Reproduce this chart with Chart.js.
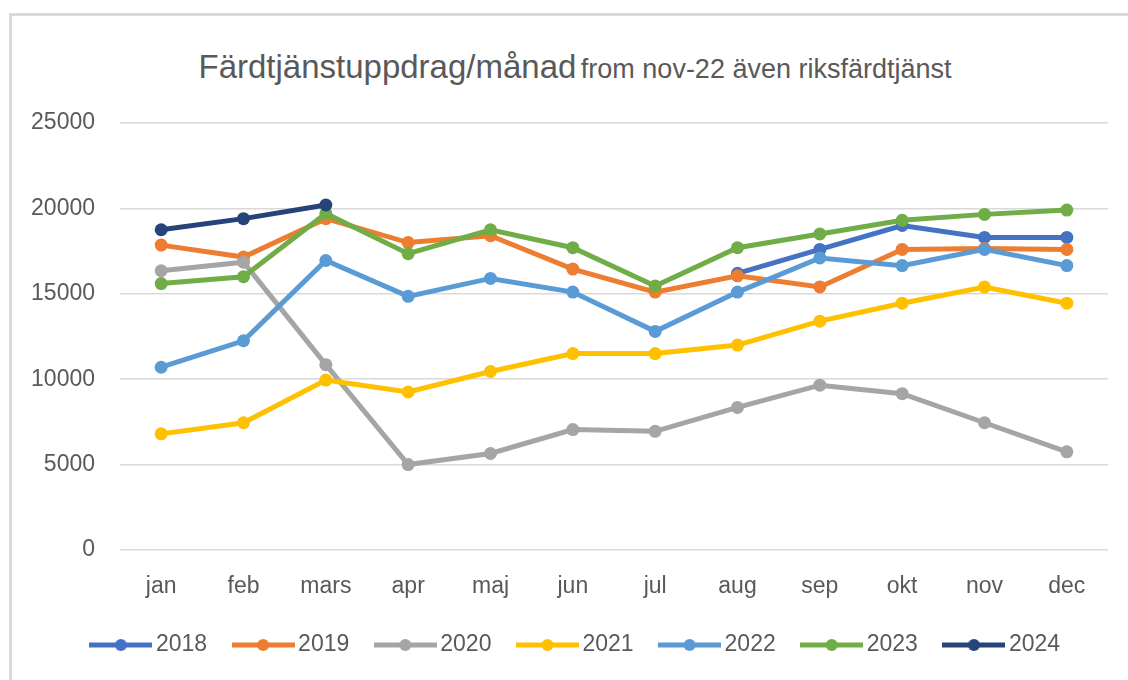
<!DOCTYPE html>
<html>
<head>
<meta charset="utf-8">
<script src="https://cdn.jsdelivr.net/npm/chart.js@4.4.1/dist/chart.umd.min.js"></script>
<style>
  html,body{margin:0;padding:0;background:#fff;overflow:hidden;}
  #wrap{position:relative;width:1128px;height:680px;}
  #frame{position:absolute;left:9px;top:13px;width:1300px;height:900px;border:3px solid #d9d9d9;box-sizing:border-box;}
  #title{position:absolute;left:0;top:47px;width:1150px;text-align:center;color:#595959;
    font-family:"Liberation Sans",Arial,sans-serif;line-height:40px;white-space:nowrap;}
  #title .main{font-size:33px;}
  #title .sub{font-size:27px;}
  canvas{position:absolute;left:0;top:0;}
</style>
</head>
<body>
<div id="wrap">
  <div id="frame"></div>
  <div id="title"><span class="main">Färdtjänstuppdrag/månad</span> <span class="sub">from nov-22 även riksfärdtjänst</span></div>
  <canvas id="chart" width="1128" height="680"></canvas>
</div>
<script>
const months = ['jan','feb','mars','apr','maj','jun','jul','aug','sep','okt','nov','dec'];
const years = ['2018','2019','2020','2021','2022','2023','2024'];
const colors = ['#4472C4','#ED7D31','#A5A5A5','#FFC000','#5B9BD5','#70AD47','#264478'];

const y2018 = [null,null,null,null,null,null,null,16200,17600,19000,18300,18300];
const y2019 = [17850,17150,19400,18000,18400,16450,15100,16050,15400,17600,17650,17600];
const y2020 = [16350,16850,10850,5000,5650,7050,6950,8350,9650,9150,7450,5750];
const y2021 = [6800,7450,9950,9250,10450,11500,11500,12000,13400,14450,15400,14450];
const y2022 = [10700,12250,16950,14850,15900,15100,12800,15100,17100,16650,17600,16650];
const y2023 = [15600,16000,19700,17350,18750,17700,15450,17700,18500,19300,19650,19900];
const y2024 = [18750,19400,20200];
const yTicks = [0,5000,10000,15000,20000,25000];

const series = [y2018,y2019,y2020,y2021,y2022,y2023,y2024];
const txt = '#595959';
const font = '"Liberation Sans", Arial, sans-serif';

// legend icon: line with a dot in the middle, like the original
function legendIcon(color){
  const c = document.createElement('canvas');
  c.width = 63; c.height = 16;
  const g = c.getContext('2d');
  g.strokeStyle = color; g.lineWidth = 5;
  g.beginPath(); g.moveTo(0,8); g.lineTo(63,8); g.stroke();
  g.fillStyle = color;
  g.beginPath(); g.arc(31.5,8,6,0,Math.PI*2); g.fill();
  return c;
}

const datasets = series.map((d,i)=>({
  label: years[i],
  data: d,
  borderColor: colors[i],
  backgroundColor: colors[i],
  borderWidth: 5,
  pointRadius: 6.5,
  pointHoverRadius: 6.5,
  pointBorderWidth: 0,
  tension: 0,
  order: series.length - i   // later years drawn on top
}));

// nudge the legend row so it sits where the original has it
const legendShift = {
  id: 'legendShift',
  afterLayout(chart){
    if(!chart.legend) return;
    chart.legend.left += 19.75;
    chart.legend.right += 19.75;
  }
};

new Chart(document.getElementById('chart'), {
  type: 'line',
  data: {labels: months, datasets},
  plugins: [legendShift],
  options: {
    responsive: false,
    animation: false,
    devicePixelRatio: 1,
    layout: {padding: {left: 10, right: 20, top: 123, bottom: 13.5}},
    scales: {
      x: {
        offset: true,
        grid: {display: false, drawTicks: false},
        border: {display: false},
        ticks: {color: txt, font: {family: font, size: 23}, padding: 23},
        afterFit: s => { s.height = 51; }
      },
      y: {
        min: 0, max: 25000,
        afterBuildTicks: s => { s.ticks = yTicks.map(v=>({value: v})); },
        grid: {color: '#d9d9d9', lineWidth: 1.5, drawTicks: false},
        border: {display: false},
        ticks: {color: txt, font: {family: font, size: 23}, padding: 25, callback: v => String(v)},
        afterFit: s => { s.width = 110; }
      }
    },
    plugins: {
      tooltip: {enabled: false},
      legend: {
        position: 'bottom',
        labels: {
          color: txt,
          font: {family: font, size: 23},
          usePointStyle: true,
          pointStyleWidth: 47,
          padding: 32.5,
          sort: (a,b) => a.datasetIndex - b.datasetIndex,
          generateLabels(chart){
            const items = Chart.defaults.plugins.legend.labels.generateLabels(chart);
            items.forEach(it=>{ it.pointStyle = legendIcon(colors[it.datasetIndex]); });
            return items;
          }
        }
      }
    }
  }
});
</script>
</body>
</html>
